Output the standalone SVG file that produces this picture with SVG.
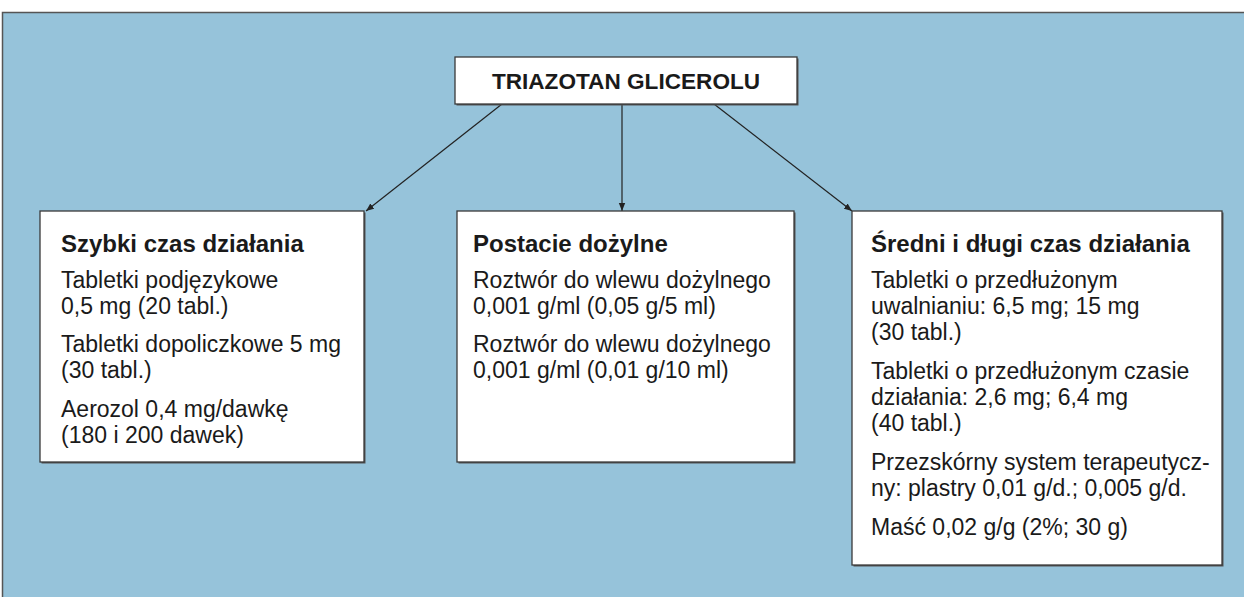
<svg xmlns="http://www.w3.org/2000/svg" width="1244" height="597" viewBox="0 0 1244 597">
<defs>
<style>
.box{fill:#fff;stroke:#3a3a3a;stroke-width:1.3}
.sh{fill:#555}
.t{font-family:"Liberation Sans",Arial,sans-serif;font-size:23px;fill:#1a1a1a}
.b{font-weight:bold;font-size:24px}
.title{font-family:"Liberation Sans",Arial,sans-serif;font-size:22.6px;font-weight:bold;fill:#1a1a1a}
.con{stroke:#222;stroke-width:1.2;fill:none;marker-end:url(#ah)}
</style>
<marker id="ah" viewBox="0 0 10 10" refX="10" refY="5" markerWidth="8" markerHeight="8" orient="auto" markerUnits="userSpaceOnUse">
<path d="M0,1 L10,5 L0,9 z" fill="#222"/>
</marker>
</defs>
<rect x="0" y="0" width="1244" height="597" fill="#fff"/>
<rect x="2.5" y="12.5" width="1250" height="600" fill="#96c3da" stroke="#555" stroke-width="1.5"/>
<g id="connectors">
<line class="con" x1="502" y1="104" x2="366" y2="211"/>
<line class="con" x1="622" y1="104" x2="622" y2="211"/>
<line class="con" x1="714" y1="104" x2="852" y2="211"/>
</g>
<g id="root">
<rect class="sh" x="456.5" y="58.5" width="342" height="47"/>
<rect class="box" x="455" y="57" width="342" height="47"/>
<text class="title" x="626" y="89" text-anchor="middle">TRIAZOTAN GLICEROLU</text>
</g>
<g id="fast">
<rect class="sh" x="41.5" y="212.5" width="324" height="251"/>
<rect class="box" x="40" y="211" width="324" height="251"/>
<text class="t b" x="61" y="252">Szybki czas działania</text>
<text class="t" x="61" y="288">Tabletki podjęzykowe</text>
<text class="t" x="61" y="314">0,5 mg (20 tabl.)</text>
<text class="t" x="61" y="352">Tabletki dopoliczkowe 5 mg</text>
<text class="t" x="61" y="378">(30 tabl.)</text>
<text class="t" x="61" y="417">Aerozol 0,4 mg/dawkę</text>
<text class="t" x="61" y="443">(180 i 200 dawek)</text>
</g>
<g id="iv">
<rect class="sh" x="458.5" y="212.5" width="337" height="251"/>
<rect class="box" x="457" y="211" width="337" height="251"/>
<text class="t b" x="473" y="252">Postacie dożylne</text>
<text class="t" x="473" y="288">Roztwór do wlewu dożylnego</text>
<text class="t" x="473" y="314">0,001 g/ml (0,05 g/5 ml)</text>
<text class="t" x="473" y="352">Roztwór do wlewu dożylnego</text>
<text class="t" x="473" y="378">0,001 g/ml (0,01 g/10 ml)</text>
</g>
<g id="long">
<rect class="sh" x="853.5" y="212.5" width="370" height="354"/>
<rect class="box" x="852" y="211" width="370" height="354"/>
<text class="t b" x="871" y="252">Średni i długi czas działania</text>
<text class="t" x="871" y="288">Tabletki o przedłużonym</text>
<text class="t" x="871" y="314">uwalnianiu: 6,5 mg; 15 mg</text>
<text class="t" x="871" y="340">(30 tabl.)</text>
<text class="t" x="871" y="379">Tabletki o przedłużonym czasie</text>
<text class="t" x="871" y="405">działania: 2,6 mg; 6,4 mg</text>
<text class="t" x="871" y="431">(40 tabl.)</text>
<text class="t" x="871" y="470">Przezskórny system terapeutycz-</text>
<text class="t" x="871" y="496">ny: plastry 0,01 g/d.; 0,005 g/d.</text>
<text class="t" x="871" y="535">Maść 0,02 g/g (2%; 30 g)</text>
</g>
</svg>
